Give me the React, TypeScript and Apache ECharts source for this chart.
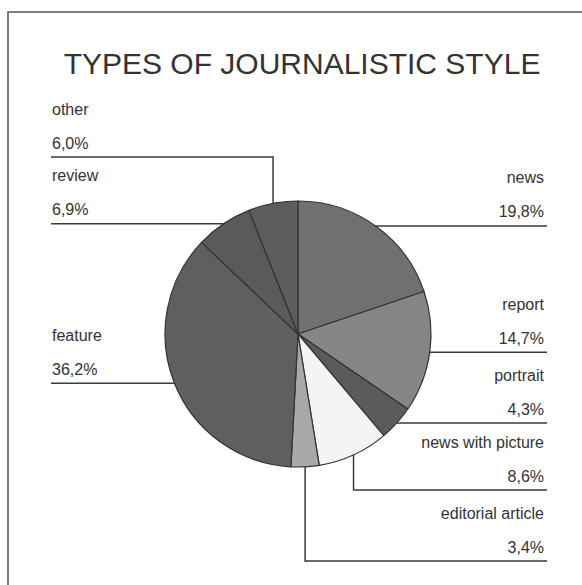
import React, { useEffect, useRef } from "react";
import * as echarts from "echarts";

// ---- data ----
const titleText = "TYPES OF JOURNALISTIC STYLE";
const categories = [
  "news",
  "report",
  "portrait",
  "news with picture",
  "editorial article",
  "feature",
  "review",
  "other",
];
const shares = [19.8, 14.7, 4.3, 8.6, 3.4, 36.2, 6.9, 6.0];

// ---- styling / layout (kept apart from data) ----
const sliceColors = [
  "#707070",
  "#868686",
  "#5b5b5b",
  "#f4f4f4",
  "#a9a9a9",
  "#5f5f5f",
  "#5a5a5a",
  "#5d5d5d",
];
const labelSides = ["right", "right", "right", "right", "right", "left", "left", "left"];
// underline height for labels whose leader bends (null = horizontal from slice edge)
const elbowLabelY: (number | null)[] = [null, null, null, 490, 561, null, null, 157];

const CX = 298;
const CY = 334;
const R = 133;
const LEFT_X = 51;
const RIGHT_X = 547;
const FONT = "'Liberation Sans', Arial, Helvetica, sans-serif";
const TEXT_COLOR = "#333333";

const fmtPct = (v: number) => v.toFixed(1).replace(".", ",") + "%";

function anchorFor(i: number): [number, number] {
  const total = shares.reduce((a, b) => a + b, 0);
  let acc = 0;
  for (let k = 0; k < i; k++) acc += shares[k];
  const mid = ((acc + shares[i] / 2) / total) * Math.PI * 2;
  return [CX + R * Math.sin(mid), CY - R * Math.cos(mid)];
}

export default function App() {
  const ref = useRef<HTMLDivElement>(null);

  useEffect(() => {
    document.body.style.margin = "0";
    if (!ref.current) return;
    const chart = echarts.init(ref.current, undefined, { renderer: "svg" });

    const option: any = {
      animation: false,
      backgroundColor: "#ffffff",
      title: {
        text: titleText,
        left: 297,
        top: 43,
        textAlign: "center",
        textStyle: {
          fontFamily: FONT,
          fontSize: 30,
          fontWeight: "normal",
          color: TEXT_COLOR,
        },
      },
      graphic: [
        {
          type: "rect",
          silent: true,
          shape: { x: 8, y: 12, width: 620, height: 620 },
          style: { fill: "none", stroke: "#555555", lineWidth: 1.5 },
        },
      ],
      series: [
        {
          type: "pie",
          center: [CX, CY],
          radius: R,
          startAngle: 90,
          clockwise: true,
          avoidLabelOverlap: false,
          emphasis: { disabled: true },
          itemStyle: { borderColor: "#333333", borderWidth: 1.2 },
          data: categories.map((name, i) => ({
            name,
            value: shares[i],
            itemStyle: { color: sliceColors[i] },
          })),
          label: {
            show: true,
            position: "outside",
            fontFamily: FONT,
            fontSize: 16,
            lineHeight: 34,
            color: TEXT_COLOR,
            formatter: (p: any) => `{n|${p.name}}\n{n|${fmtPct(p.value)}}`,
            rich: {
              n: {
                fontFamily: FONT,
                fontSize: 16,
                lineHeight: 34,
                color: TEXT_COLOR,
              },
            },
          },
          labelLine: {
            show: true,
            length: 10,
            length2: 10,
            smooth: false,
            lineStyle: { color: "#3a3a3a", width: 1.5 },
          },
          labelLayout: (p: any) => {
            const i = p.dataIndex;
            const pts = p.labelLinePoints;
            const [ax, ay] = pts && pts.length ? pts[0] : anchorFor(i);
            const side = labelSides[i];
            const elbow = elbowLabelY[i];
            const uy = elbow == null ? ay : elbow;
            const endX = side === "right" ? RIGHT_X : LEFT_X;
            const linePts =
              elbow == null
                ? [
                    [ax, ay],
                    [endX, ay],
                  ]
                : [
                    [ax, ay],
                    [ax, uy],
                    [endX, uy],
                  ];
            return {
              x: side === "right" ? RIGHT_X - 3 : LEFT_X + 1,
              y: uy - 65,
              align: side === "right" ? "right" : "left",
              verticalAlign: "top",
              labelLinePoints: linePts,
            };
          },
        },
      ],
    };

    chart.setOption(option);
    return () => chart.dispose();
  }, []);

  return <div ref={ref} style={{ width: 582, height: 585 }} />;
}
